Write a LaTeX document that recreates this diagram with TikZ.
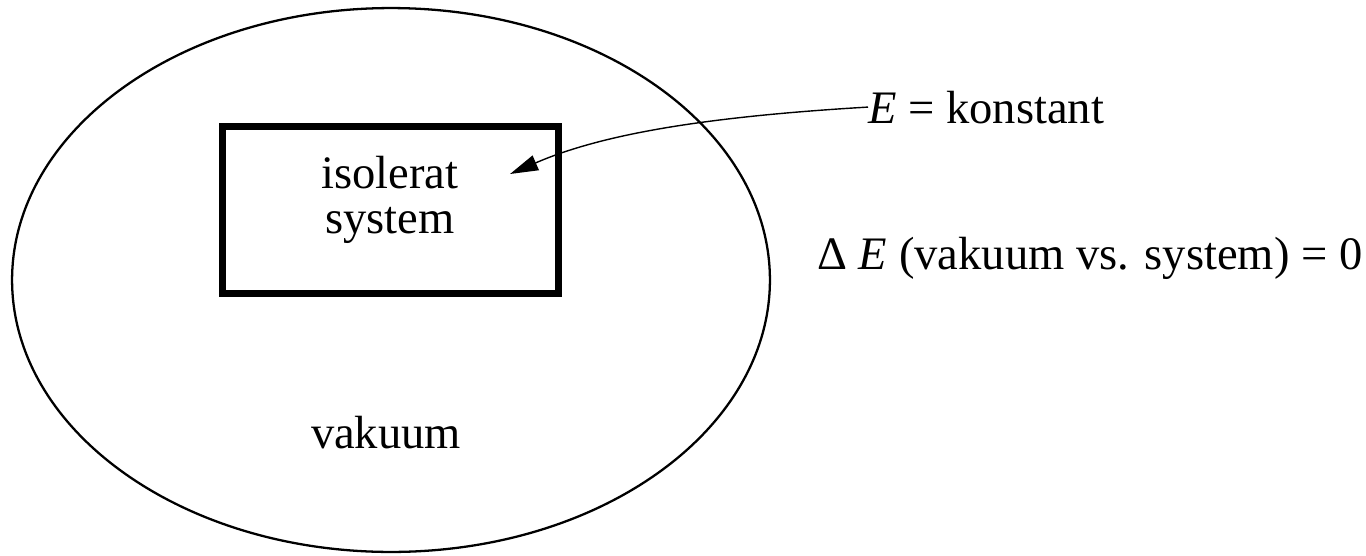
\documentclass[tikz,border=0pt]{standalone}
\usepackage{fontspec}
\setmainfont{Liberation Serif}
\usetikzlibrary{arrows.meta}
\begin{document}
\begin{tikzpicture}[x=0.02cm, y=-0.02cm,
    every node/.style={font=\fontsize{26.5}{25.6}\selectfont, inner sep=0pt},
    sysbox/.style={draw, line width=4pt, minimum width=6.72cm, minimum height=3.34cm},
    arr/.style={-{Triangle[length=16pt,width=9pt]}, line width=0.8pt}
  ]
  \useasboundingbox (0,0) rectangle (1366,555);
  % Vacuum
  \draw[line width=1.3pt] (391,280) ellipse [x radius=7.58cm, y radius=5.44cm];
  \node[anchor=base] (vak) at (386,448) {vakuum};
  % Isolated system
  \node[sysbox] (box) at (390.5,210) {};
  \node[align=center] (sys) at (390,200) {isolerat\\system};
  % Labels
  \node[anchor=base west] (elabel) at (868,123) {\textit{E} = konstant};
  \node[anchor=base west] (delta) at (817,269) {Δ \textit{E} (vakuum vs. system) = 0};
  % Arrow
  \coordinate (tip) at (510,174);
  \draw[arr] (elabel.west) .. controls (700,117) and (600,135) .. (tip);
\end{tikzpicture}
\end{document}
